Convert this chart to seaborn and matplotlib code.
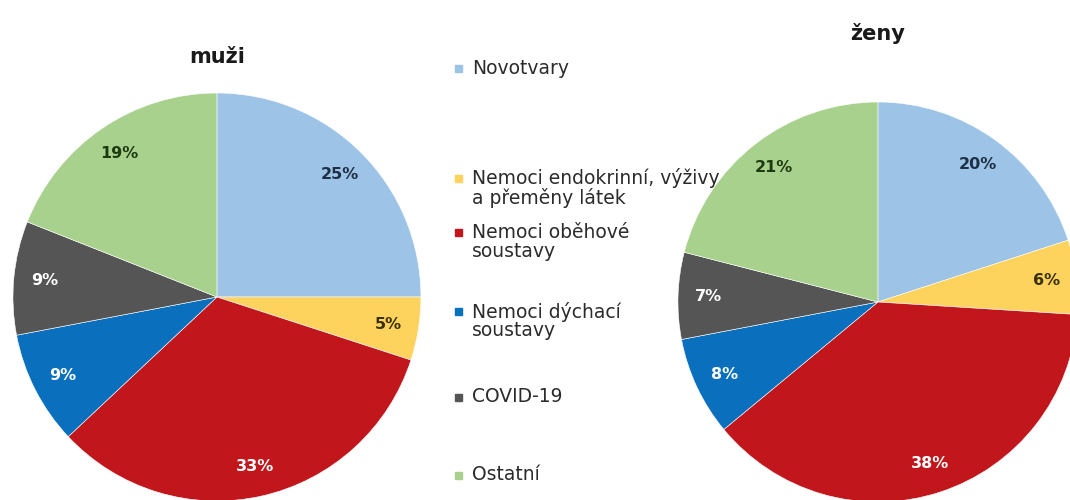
import matplotlib
matplotlib.use("Agg")
import matplotlib.pyplot as plt
import seaborn as sns

categories = ["Novotvary", "Nemoci endokrinní, výživy\na přeměny látek",
              "Nemoci oběhové\nsoustavy", "Nemoci dýchací\nsoustavy",
              "COVID-19", "Ostatní"]
muzi = [25, 5, 33, 9, 9, 19]
zeny = [20, 6, 38, 8, 7, 21]
colors = ["#9dc3e6", "#fdd35e", "#c0161c", "#0a6fbd", "#555555", "#a9d18e"]
label_colors = ["#1f3046", "#3a3000", "white", "white", "white", "#1e3a10"]

sns.set_theme(style="white")
plt.rcParams["font.family"] = ["DejaVu Sans"]
palette = sns.color_palette(colors)

fig = plt.figure(figsize=(10.7, 5.0), dpi=100)


def draw_pie(rect, values, title, title_y):
    ax = fig.add_axes(rect)
    wedges, texts, autotexts = ax.pie(
        values, colors=palette, startangle=90, counterclock=False,
        autopct=lambda p: f"{p:.0f}%", pctdistance=0.85, radius=1,
        wedgeprops=dict(edgecolor="white", linewidth=0.4),
        textprops=dict(fontsize=11.5, fontweight="bold"))
    for t, c in zip(autotexts, label_colors):
        t.set_color(c)
    ax.set_xlim(-1, 1)
    ax.set_ylim(-1, 1)
    ax.set_aspect("equal")
    ax.axis("off")
    cx = rect[0] + rect[2] / 2
    fig.text(cx, title_y, title, ha="center", va="center",
             fontsize=15, fontweight="bold", color="#1a1a1a")


draw_pie([0.0121, -0.002, 0.3813, 0.816], muzi, "muži", 1 - 57 / 500)
draw_pie([0.6336, -0.004, 0.3738, 0.80], zeny, "ženy", 1 - 33 / 500)

# legend in the middle
legend_y = [68, 188, 242, 321, 397, 475]
for cat, col, y in zip(categories, colors, legend_y):
    nlines = cat.count("\n") + 1
    first_y = y - (nlines - 1) * 9.5
    fig.patches.append(plt.Rectangle((455 / 1070, 1 - (first_y + 3.5) / 500),
                                     7 / 1070, 7 / 500, color=col,
                                     transform=fig.transFigure, figure=fig))
    fig.text(472 / 1070, 1 - y / 500, cat, ha="left", va="center",
             fontsize=13.5, color="#2b2b2b", linespacing=1.0)

fig.savefig("out.png", dpi=100)
